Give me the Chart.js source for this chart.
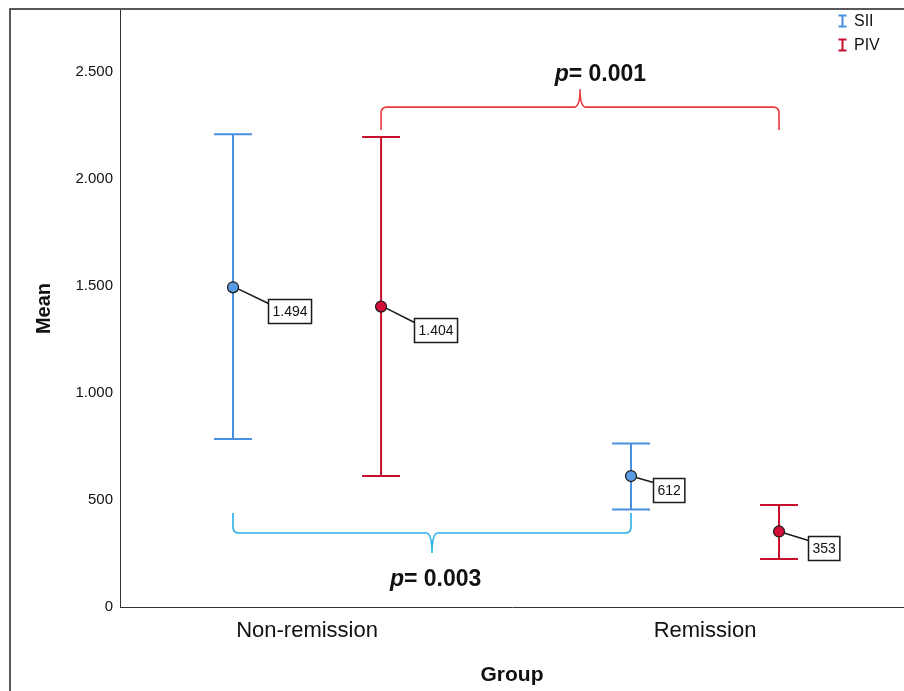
<!DOCTYPE html>
<html>
<head>
<meta charset="utf-8">
<script src="https://cdn.jsdelivr.net/npm/chart.js@4.4.1/dist/chart.umd.min.js"></script>
<style>
  html, body { margin: 0; padding: 0; background: #fff; }
  #wrap { width: 904px; height: 691px; position: relative; }
</style>
</head>
<body>
<div id="wrap"><canvas id="meanChart"></canvas></div>
<script>
// group means with 95% CI ends
const groups = ["Non-remission", "Remission"];
const seriesNames = ["SII", "PIV"];
const siiMean = [1494, 612];
const siiLow = [785, 456];
const siiHigh = [2209, 764];
const pivMean = [1404, 353];
const pivLow = [612, 224];
const pivHigh = [2196, 477];
const yTicks = [0, 500, 1000, 1500, 2000, 2500];

// significance braces (value space)
const pValues = ["0.001", "0.003"];
const braceSeries = [1, 0];
const braceLevel = [2336, 346];
const braceArm = [2229, 439];
const braceTip = [2420, 252];
const pTextX = [0.737, 0.323];
const pTextY = [2460, 98];

const FONT = "'Liberation Sans', Arial, sans-serif";
const dodge = 0.186;
const colors = ["#4a8fe0", "#c8102e"];
const fills = ["#5a9be3", "#d3103a"];
const braceColors = ["#ea3a3f", "#2ab0e6"];
// label box offsets from the point, per series then group
const labelOffsets = [[[35, 12], [22, 2]], [[33, 11], [29, 5]]];

function fmt(v) {
  return String(Math.round(v)).replace(/\B(?=(\d{3})+(?!\d))/g, ".");
}

const means = [siiMean, pivMean];
const lows = [siiLow, pivLow];
const highs = [siiHigh, pivHigh];

const datasets = seriesNames.map((name, s) => ({
  label: name,
  data: means[s].map((m, i) => ({ x: i + (s === 0 ? -dodge : dodge), y: m })),
  low: lows[s],
  high: highs[s],
  showLine: false,
  pointRadius: 5.5,
  pointHoverRadius: 5.5,
  pointBackgroundColor: fills[s],
  pointBorderColor: "#1a1a1a",
  pointBorderWidth: 1.2,
  borderColor: colors[s]
}));

const frame = {
  id: "frame",
  beforeDraw(chart) {
    const ctx = chart.ctx;
    ctx.save();
    ctx.fillStyle = "#fff";
    ctx.fillRect(0, 0, chart.width, chart.height);
    ctx.strokeStyle = "#222";
    ctx.lineWidth = 1.5;
    ctx.beginPath();
    ctx.moveTo(10, chart.height);
    ctx.lineTo(10, 9);
    ctx.lineTo(chart.width, 9);
    ctx.stroke();
    ctx.restore();
  }
};

const errorBars = {
  id: "errorBars",
  beforeDatasetsDraw(chart) {
    const ctx = chart.ctx;
    const xs = chart.scales.x, ys = chart.scales.y;
    ctx.save();
    chart.data.datasets.forEach(ds => {
      ctx.strokeStyle = ds.borderColor;
      ctx.lineWidth = 2;
      ds.data.forEach((pt, i) => {
        const x = xs.getPixelForValue(pt.x);
        const yl = ys.getPixelForValue(ds.low[i]);
        const yh = ys.getPixelForValue(ds.high[i]);
        ctx.beginPath();
        ctx.moveTo(x, yh); ctx.lineTo(x, yl);
        ctx.moveTo(x - 19, yh); ctx.lineTo(x + 19, yh);
        ctx.moveTo(x - 19, yl); ctx.lineTo(x + 19, yl);
        ctx.stroke();
      });
    });
    ctx.restore();
  }
};

function brace(ctx, x1, x2, yLevel, yArm, yTip, r) {
  const dir = Math.sign(yArm - yLevel);
  const xm = (x1 + x2) / 2;
  ctx.beginPath();
  ctx.moveTo(x1, yArm);
  ctx.lineTo(x1, yLevel + dir * r);
  ctx.quadraticCurveTo(x1, yLevel, x1 + r, yLevel);
  ctx.lineTo(xm - r, yLevel);
  ctx.quadraticCurveTo(xm, yLevel, xm, yTip);
  ctx.quadraticCurveTo(xm, yLevel, xm + r, yLevel);
  ctx.lineTo(x2 - r, yLevel);
  ctx.quadraticCurveTo(x2, yLevel, x2, yLevel + dir * r);
  ctx.lineTo(x2, yArm);
  ctx.stroke();
}

const annotations = {
  id: "annotations",
  afterDatasetsDraw(chart) {
    const ctx = chart.ctx;
    const xs = chart.scales.x, ys = chart.scales.y;
    ctx.save();

    // value labels
    chart.data.datasets.forEach((ds, s) => {
      ds.data.forEach((pt, i) => {
        const px = xs.getPixelForValue(pt.x);
        const py = ys.getPixelForValue(pt.y);
        const txt = fmt(pt.y);
        ctx.font = "14px " + FONT;
        const w = ctx.measureText(txt).width + 8;
        const h = 24;
        const bx = Math.round(px + labelOffsets[s][i][0]) + 0.5;
        const by = Math.round(py + labelOffsets[s][i][1]) + 0.5;
        ctx.strokeStyle = "#1a1a1a";
        ctx.lineWidth = 1.5;
        ctx.beginPath();
        ctx.moveTo(px + 5, py + 1.5);
        ctx.lineTo(bx, by + 4);
        ctx.stroke();
        ctx.fillStyle = "#fff";
        ctx.fillRect(bx, by, w, h);
        ctx.strokeRect(bx, by, w, h);
        ctx.fillStyle = "#111";
        ctx.textAlign = "center";
        ctx.textBaseline = "middle";
        ctx.fillText(txt, bx + w / 2, by + h / 2 + 1);
      });
    });

    // braces and p-values
    pValues.forEach((p, k) => {
      const ds = chart.data.datasets[braceSeries[k]];
      const x1 = xs.getPixelForValue(ds.data[0].x);
      const x2 = xs.getPixelForValue(ds.data[1].x);
      ctx.strokeStyle = braceColors[k];
      ctx.lineWidth = 1.6;
      brace(ctx, x1, x2, ys.getPixelForValue(braceLevel[k]),
        ys.getPixelForValue(braceArm[k]), ys.getPixelForValue(braceTip[k]), 6);

      const cx = xs.getPixelForValue(pTextX[k]);
      const cy = ys.getPixelForValue(pTextY[k]);
      ctx.fillStyle = "#111";
      ctx.textBaseline = "alphabetic";
      ctx.textAlign = "left";
      ctx.font = "italic bold 23px " + FONT;
      const wp = ctx.measureText("p").width;
      ctx.font = "bold 23px " + FONT;
      const rest = "= " + p;
      const wr = ctx.measureText(rest).width;
      const x0 = cx - (wp + wr) / 2;
      ctx.font = "italic bold 23px " + FONT;
      ctx.fillText("p", x0, cy);
      ctx.font = "bold 23px " + FONT;
      ctx.fillText(rest, x0 + wp, cy);
    });

    // legend
    ctx.textAlign = "left";
    ctx.textBaseline = "middle";
    ctx.font = "16px " + FONT;
    chart.data.datasets.forEach((ds, s) => {
      const y = 21 + s * 24;
      const x = 842.5;
      ctx.strokeStyle = ds.borderColor;
      ctx.lineWidth = 2;
      ctx.beginPath();
      ctx.moveTo(x, y - 5.5); ctx.lineTo(x, y + 5.5);
      ctx.moveTo(x - 4, y - 5.5); ctx.lineTo(x + 4, y - 5.5);
      ctx.moveTo(x - 4, y + 5.5); ctx.lineTo(x + 4, y + 5.5);
      ctx.stroke();
      ctx.fillStyle = "#111";
      ctx.fillText(ds.label, 854, y + 1);
    });

    ctx.restore();
  }
};

new Chart(document.getElementById("meanChart"), {
  type: "scatter",
  data: { datasets },
  plugins: [frame, errorBars, annotations],
  options: {
    responsive: true,
    maintainAspectRatio: false,
    animation: false,
    layout: { autoPadding: false, padding: { top: 10, left: 0, right: 0, bottom: 0 } },
    plugins: { legend: { display: false }, tooltip: { enabled: false } },
    scales: {
      x: {
        type: "linear",
        min: -0.47,
        max: 1.5,
        afterBuildTicks: scale => { scale.ticks = groups.map((g, i) => ({ value: i })); },
        afterFit: scale => { scale.height = 84; scale.paddingLeft = 0; scale.paddingRight = 0; },
        grid: { display: false, drawTicks: false },
        border: { display: true, color: "#333", width: 1 },
        ticks: {
          padding: 11,
          color: "#111",
          font: { family: FONT, size: 22 },
          callback: v => groups[v]
        },
        title: {
          display: true,
          text: "Group",
          color: "#111",
          font: { family: FONT, size: 21, weight: "bold" },
          padding: { top: 0, bottom: 3 }
        }
      },
      y: {
        min: 0,
        max: 2790,
        afterBuildTicks: scale => { scale.ticks = yTicks.map(v => ({ value: v })); },
        afterFit: scale => { scale.width = 120; scale.paddingTop = 0; scale.paddingBottom = 0; },
        grid: { display: false, drawTicks: false },
        border: { display: true, color: "#333", width: 1 },
        ticks: {
          padding: 7,
          color: "#111",
          font: { family: FONT, size: 15 },
          callback: v => fmt(v)
        },
        title: {
          display: true,
          text: "Mean",
          color: "#111",
          font: { family: FONT, size: 20, weight: "bold" },
          padding: { top: 32, bottom: 0 }
        }
      }
    }
  }
});
</script>
</body>
</html>
